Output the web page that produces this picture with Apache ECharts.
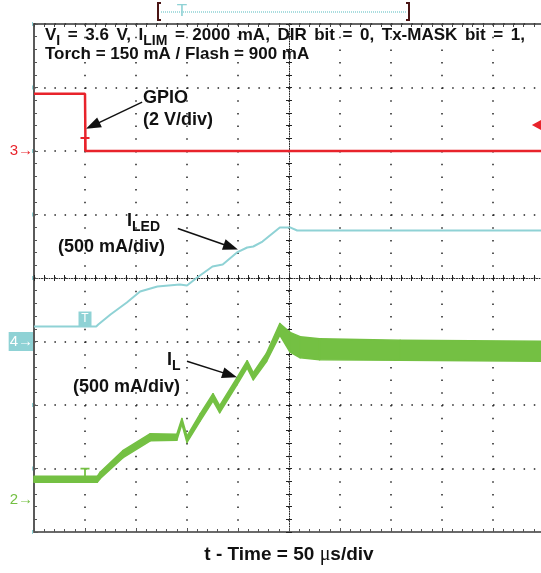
<!DOCTYPE html>
<html>
<head>
<meta charset="utf-8">
<script src="https://cdn.jsdelivr.net/npm/echarts@6/dist/echarts.min.js"></script>
<style>
  html, body { margin: 0; padding: 0; background: #fff; }
  #scope { width: 541px; height: 573px; }
</style>
</head>
<body>
<div id="scope"></div>
<script>
// time base: 50 us/div, trigger at t = 0
const TIME_MIN = -50;
const TIME_MAX = 450;
const TIME_DIV = 50;

// channel 3, GPIO (V)
const GPIO_T = [-50, 0, 0.5, 450];
const GPIO_V = [1.8, 1.8, 0, 0];
const TRIGGER_LEVEL = [443, 0.82];

// channel 4, ILED (mA)
const ILED_T = [-50, 11, 13, 25, 41, 54, 71, 93, 100, 110, 125, 135, 149, 159, 165, 174, 191, 201, 208, 450];
const ILED_MA = [118, 118, 134, 213, 307, 394, 433, 449, 441, 504, 591, 606, 701, 740, 748, 787, 898, 898, 874, 874];

// channel 2, IL (mA), ripple envelope
const IL_T = [-50, 12, 15, 37, 64, 90, 95, 100, 113, 125.5, 132, 149, 159, 165, 178, 191, 201, 211, 230, 309, 450];
const IL_LOW = [142, 142, 172, 334, 468, 473, 600, 455, 626, 783, 689, 909, 1043, 948, 1093, 1300, 1166, 1122, 1106, 1103, 1095];
const IL_HIGH = [188, 188, 222, 390, 524, 519, 644, 505, 682, 839, 745, 965, 1099, 1004, 1159, 1392, 1322, 1288, 1272, 1259, 1251];

// annotation arrows [from, to] in channel units
const GPIO_ARROW = [[56, 1.54], [7.6, 0.80]];
const ILED_ARROW = [[91, 890], [143, 744]];
const IL_ARROW = [[100, 1094], [142, 987]];

// trigger "T" markers
const GPIO_T_MARK = [0, 0.22];
const ILED_T_MARK = [0, 177];
const IL_T_MARK = [0, 205];

const RED = '#e8232b';
const CYAN = '#8fd2d5';
const GREEN = '#74c043';
const FONT = '"Liberation Sans", Arial, sans-serif';
const T_PATH = 'path://M0,0H10V2H6V14H4V2H0Z';
const SP = ' \u2006'; // the scope header is set with slightly wide word spacing

const chart = echarts.init(document.getElementById('scope'));

function zip(a, b) {
  return a.map((v, i) => [v, b[i]]);
}

function timeAxis(extra) {
  return Object.assign({
    type: 'value',
    min: TIME_MIN,
    max: TIME_MAX,
    interval: TIME_DIV,
    axisLabel: { show: false },
    splitLine: { show: false }
  }, extra);
}

function divAxis(extra) {
  return Object.assign({
    type: 'value',
    min: 0,
    max: 8,
    interval: 1,
    axisLabel: { show: false },
    splitLine: { show: false }
  }, extra);
}

function channelAxis(min, max, interval, label, labelStyle) {
  return {
    type: 'value',
    min: min,
    max: max,
    interval: interval,
    position: 'left',
    axisLine: { show: false, onZero: false },
    axisTick: { show: false },
    splitLine: { show: false },
    axisLabel: Object.assign({
      margin: 1,
      fontFamily: FONT,
      fontSize: 15,
      formatter: v => (v === 0 ? label : '')
    }, labelStyle)
  };
}

function arrow(pts) {
  return {
    silent: true,
    symbol: ['none', 'triangle'],
    symbolSize: [11, 15],
    lineStyle: { color: '#111', width: 1.5, type: 'solid' },
    label: { show: false },
    data: [[{ coord: pts[0] }, { coord: pts[1] }]]
  };
}

function boldText(left, top, text, size, subSize) {
  subSize = subSize || size - 4;
  return {
    type: 'text', silent: true, left: left, top: top,
    style: {
      text: text,
      font: 'bold ' + size + 'px ' + FONT,
      fill: '#111',
      rich: { s: { fontSize: subSize, fontWeight: 'bold', fontFamily: FONT, padding: [size - 6, 0, 0, 0] } }
    }
  };
}

// IL ripple band: one quad per segment between the low and high envelopes
function renderBand(params, api) {
  const i = params.dataIndex;
  if (i >= IL_T.length - 1) return null;
  const a = api.coord([IL_T[i], IL_HIGH[i]]);
  const b = api.coord([IL_T[i + 1], IL_HIGH[i + 1]]);
  const c = api.coord([IL_T[i + 1], IL_LOW[i + 1]]);
  const d = api.coord([IL_T[i], IL_LOW[i]]);
  return {
    type: 'polygon',
    shape: { points: [a, b, c, d] },
    style: { fill: GREEN, stroke: GREEN, lineWidth: 1.5, lineJoin: 'round' }
  };
}

const header1 = ['V{s|I}', '=', '3.6', 'V,', 'I{s|LIM}', '=', '2000', 'mA,', 'DIR', 'bit', '=', '0,', 'Tx-MASK', 'bit', '=', '1,'].join(SP);

const option = {
  animation: false,
  backgroundColor: '#fff',
  grid: { left: 34, top: 24, width: 510, height: 508, outerBoundsMode: 'none' },
  xAxis: [
    timeAxis({
      position: 'bottom',
      axisLine: { onZero: false, lineStyle: { color: '#6a6a6a', width: 2 } },
      axisTick: { inside: true, length: 4, lineStyle: { color: '#555' } },
      minorTick: { show: true, splitNumber: 5, length: 3, lineStyle: { color: '#555' } },
      splitLine: { show: true, lineStyle: { color: '#222', width: 1.5, type: [1.5, 11.2] } },
      name: 't - Time = 50 {mu|\u03bc}s/div',
      nameLocation: 'middle',
      nameGap: 13,
      nameTextStyle: {
        verticalAlign: 'top',
        fontFamily: FONT,
        fontWeight: 'bold',
        fontSize: 19,
        color: '#111',
        rich: { mu: { fontFamily: '"Liberation Serif", serif', fontWeight: 'normal', fontSize: 20, color: '#111' } }
      }
    }),
    timeAxis({
      position: 'top',
      axisLine: { onZero: false, lineStyle: { color: '#333', width: 1.5 } },
      axisTick: { inside: true, length: 3, lineStyle: { color: '#444' } },
      minorTick: { show: true, splitNumber: 5, length: 3, lineStyle: { color: '#444' } }
    }),
    timeAxis({
      position: 'bottom',
      offset: -254,
      axisLine: { onZero: false, lineStyle: { color: '#222', width: 1, type: [1, 1.5] } },
      axisTick: { inside: false, length: 3, lineStyle: { color: '#222' } },
      minorTick: { show: true, splitNumber: 5, length: 3, lineStyle: { color: '#222' } }
    }),
    timeAxis({
      position: 'bottom',
      offset: -254,
      axisLine: { show: false, onZero: false },
      axisTick: { inside: true, length: 3, lineStyle: { color: '#222' } },
      minorTick: { show: true, splitNumber: 5, length: 3, lineStyle: { color: '#222' } }
    })
  ],
  yAxis: [
    divAxis({
      position: 'left',
      axisLine: { onZero: false, lineStyle: { color: '#5a5a5a', width: 2 } },
      axisTick: { inside: true, length: 4, lineStyle: { color: '#555' } },
      minorTick: { show: true, splitNumber: 5, length: 3, lineStyle: { color: '#555' } },
      splitLine: { show: true, lineStyle: { color: '#222', width: 1.5, type: [1.5, 8.7] } }
    }),
    divAxis({
      position: 'left',
      offset: -255,
      axisLine: { onZero: false, lineStyle: { color: '#222', width: 1, type: [1, 1.5] } },
      axisTick: { inside: false, length: 3, lineStyle: { color: '#222' } },
      minorTick: { show: true, splitNumber: 5, length: 3, lineStyle: { color: '#222' } }
    }),
    divAxis({
      position: 'left',
      offset: -255,
      axisLine: { show: false, onZero: false },
      axisTick: { inside: true, length: 3, lineStyle: { color: '#222' } },
      minorTick: { show: true, splitNumber: 5, length: 3, lineStyle: { color: '#222' } }
    }),
    channelAxis(-12, 4, 2, '3\u2192', { color: RED }),
    channelAxis(-1500, 2500, 500, '4\u2192', { color: '#fff', backgroundColor: CYAN, padding: [2, 0, 2, 1] }),
    channelAxis(-250, 3750, 250, '2\u2192', { color: GREEN })
  ],
  series: [
    {
      name: 'IL',
      type: 'custom',
      xAxisIndex: 0,
      yAxisIndex: 5,
      renderItem: renderBand,
      encode: { x: 0, y: [1, 2] },
      data: IL_T.map((t, i) => [t, IL_LOW[i], IL_HIGH[i]]),
      markLine: arrow(IL_ARROW),
      markPoint: {
        silent: true,
        label: { show: false },
        data: [{ coord: IL_T_MARK, symbol: T_PATH, symbolSize: [9, 13], itemStyle: { color: GREEN } }]
      }
    },
    {
      name: 'ILED',
      type: 'line',
      xAxisIndex: 0,
      yAxisIndex: 4,
      showSymbol: false,
      lineStyle: { color: CYAN, width: 2 },
      data: zip(ILED_T, ILED_MA),
      markLine: arrow(ILED_ARROW),
      markPoint: {
        silent: true,
        data: [{ coord: ILED_T_MARK, symbol: 'rect', symbolSize: [13, 15], itemStyle: { color: CYAN } }],
        label: { show: true, position: 'inside', formatter: 'T', color: '#fff', fontFamily: FONT, fontSize: 12 }
      }
    },
    {
      name: 'GPIO',
      type: 'line',
      xAxisIndex: 0,
      yAxisIndex: 3,
      showSymbol: false,
      lineStyle: { color: RED, width: 2.5 },
      data: zip(GPIO_T, GPIO_V),
      markLine: arrow(GPIO_ARROW),
      markPoint: {
        silent: true,
        label: { show: false },
        data: [
          { coord: GPIO_T_MARK, symbol: T_PATH, symbolSize: [9, 14], itemStyle: { color: RED } },
          { coord: TRIGGER_LEVEL, symbol: 'triangle', symbolRotate: 90, symbolSize: [11, 10], itemStyle: { color: RED } }
        ]
      }
    }
  ],
  graphic: [
    // record position bar
    { type: 'polyline', silent: true, shape: { points: [[161, 3], [158, 3], [158, 20], [161, 20]] }, style: { stroke: '#4a1515', lineWidth: 2, fill: null } },
    { type: 'polyline', silent: true, shape: { points: [[406, 3], [409, 3], [409, 20], [406, 20]] }, style: { stroke: '#4a1515', lineWidth: 2, fill: null } },
    { type: 'line', silent: true, shape: { x1: 161, y1: 12, x2: 406, y2: 12 }, style: { stroke: CYAN, lineWidth: 1.5, lineDash: [1, 1] } },
    { type: 'text', silent: true, x: 182, y: 11, style: { text: 'T', fill: CYAN, font: '17px ' + FONT, align: 'center', verticalAlign: 'middle' } },
    // conditions
    boldText(45, 27, header1, 17, 14),
    boldText(45, 46, 'Torch = 150 mA / Flash = 900 mA', 17),
    // channel labels
    { type: 'text', silent: true, left: 143, top: 87, style: { text: 'GPIO\n(2 V/div)', font: 'bold 18px ' + FONT, fill: '#111', lineHeight: 22 } },
    boldText(127, 212, 'I{s|LED}', 18),
    boldText(58, 238, '(500 mA/div)', 18),
    boldText(167, 351, 'I{s|L}', 18),
    boldText(73, 378, '(500 mA/div)', 18)
  ]
};

chart.setOption(option);
</script>
</body>
</html>
